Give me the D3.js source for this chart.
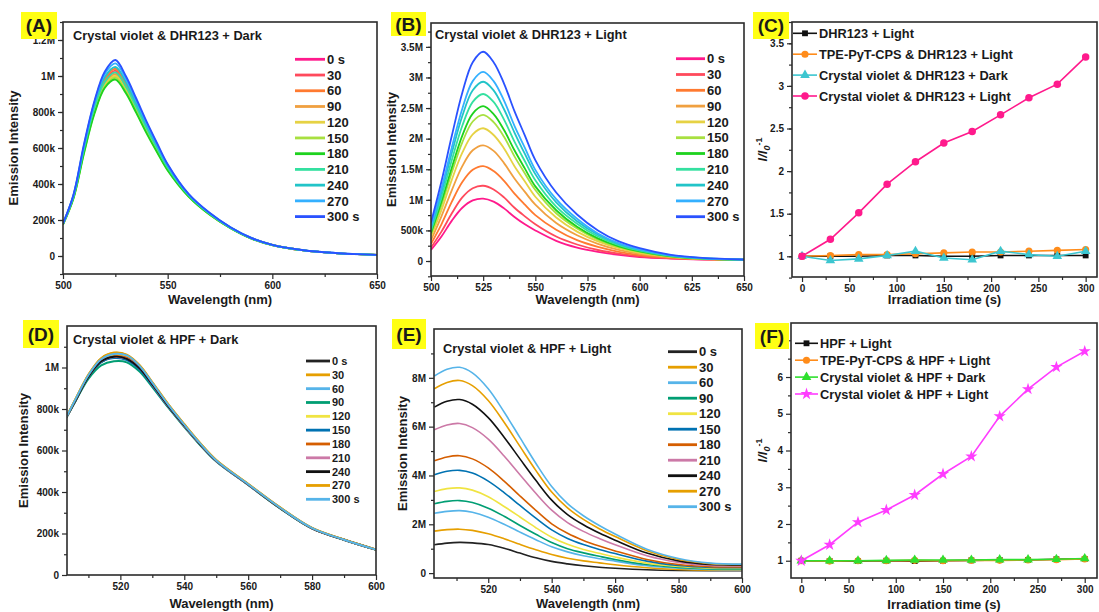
<!DOCTYPE html>
<html>
<head>
<meta charset="utf-8">
<script src="https://cdn.jsdelivr.net/npm/d3@7"></script>
<style>
  body { margin: 0; background: #fff; }
  svg { display: block; }
  text { font-family: "Liberation Sans", Arial, Helvetica, sans-serif; font-weight: bold; fill: #1a1a1a; }
</style>
</head>
<body>
<svg id="fig" width="1099" height="612"></svg>
<script>
// ---------- data (intensities in units of 10^6 counts) ----------
const timeLabels = ["0 s", "30", "60", "90", "120", "150", "180", "210", "240", "270", "300 s"];
const rainbowColors = ["#ff1a8c", "#ff4a5c", "#ff7a30", "#f0a040", "#e6d244", "#a8e040", "#1ed21e", "#34e0a0", "#22c4c8", "#34b0ff", "#2a52ff"];
const okabeColors = ["#222222", "#e69f00", "#56b4e9", "#009e73", "#f0e442", "#0072b2", "#d55e00", "#cc79a7", "#111111", "#e69f00", "#56b4e9"];

// (A) Crystal violet & DHR123, dark
const wlDHR = [500, 505, 510, 515, 520, 525, 530, 535, 540, 545, 550, 560, 570, 580, 590, 600, 615, 630, 650];
const dhrDark = [
  [0.178, 0.33, 0.59, 0.82, 0.965, 1.02, 0.94, 0.825, 0.705, 0.595, 0.49, 0.335, 0.233, 0.157, 0.098, 0.061, 0.031, 0.016, 0.006],
  [0.178, 0.33, 0.595, 0.83, 0.975, 1.03, 0.95, 0.833, 0.712, 0.6, 0.493, 0.337, 0.234, 0.157, 0.098, 0.061, 0.031, 0.016, 0.006],
  [0.179, 0.332, 0.6, 0.835, 0.985, 1.04, 0.958, 0.84, 0.718, 0.605, 0.496, 0.338, 0.235, 0.158, 0.099, 0.061, 0.031, 0.016, 0.006],
  [0.177, 0.328, 0.585, 0.81, 0.955, 1.01, 0.932, 0.818, 0.7, 0.59, 0.486, 0.334, 0.232, 0.156, 0.098, 0.061, 0.031, 0.016, 0.006],
  [0.176, 0.326, 0.58, 0.805, 0.948, 1.0, 0.923, 0.81, 0.694, 0.586, 0.483, 0.333, 0.232, 0.156, 0.098, 0.06, 0.031, 0.016, 0.006],
  [0.176, 0.323, 0.575, 0.797, 0.94, 0.99, 0.914, 0.803, 0.688, 0.58, 0.479, 0.331, 0.231, 0.155, 0.097, 0.06, 0.031, 0.016, 0.006],
  [0.175, 0.32, 0.57, 0.79, 0.935, 0.98, 0.905, 0.795, 0.68, 0.575, 0.475, 0.33, 0.23, 0.155, 0.097, 0.06, 0.031, 0.016, 0.006],
  [0.178, 0.332, 0.595, 0.825, 0.968, 1.02, 0.942, 0.828, 0.708, 0.598, 0.492, 0.338, 0.235, 0.157, 0.098, 0.061, 0.031, 0.016, 0.006],
  [0.179, 0.335, 0.605, 0.843, 0.995, 1.05, 0.968, 0.848, 0.724, 0.61, 0.5, 0.34, 0.237, 0.158, 0.099, 0.061, 0.031, 0.016, 0.006],
  [0.18, 0.338, 0.612, 0.852, 1.012, 1.07, 0.985, 0.862, 0.736, 0.618, 0.505, 0.343, 0.239, 0.159, 0.1, 0.062, 0.032, 0.017, 0.006],
  [0.18, 0.34, 0.62, 0.86, 1.025, 1.089, 1.0, 0.875, 0.745, 0.625, 0.51, 0.345, 0.24, 0.16, 0.1, 0.062, 0.032, 0.017, 0.006]
];

// (B) Crystal violet & DHR123, light
const dhrLight = [
  [0.18, 0.40, 0.66, 0.87, 0.99, 1.02, 0.97, 0.86, 0.72, 0.60, 0.50, 0.33, 0.22, 0.15, 0.10, 0.065, 0.04, 0.025, 0.015],
  [0.22, 0.48, 0.78, 1.04, 1.19, 1.23, 1.17, 1.04, 0.87, 0.73, 0.60, 0.40, 0.27, 0.18, 0.12, 0.078, 0.045, 0.027, 0.016],
  [0.28, 0.60, 0.97, 1.29, 1.49, 1.55, 1.47, 1.31, 1.10, 0.92, 0.75, 0.51, 0.34, 0.23, 0.15, 0.097, 0.053, 0.031, 0.017],
  [0.34, 0.73, 1.16, 1.55, 1.81, 1.89, 1.80, 1.60, 1.35, 1.13, 0.92, 0.62, 0.42, 0.28, 0.18, 0.118, 0.062, 0.034, 0.019],
  [0.40, 0.83, 1.33, 1.77, 2.07, 2.17, 2.06, 1.84, 1.55, 1.30, 1.05, 0.71, 0.48, 0.32, 0.21, 0.134, 0.069, 0.037, 0.020],
  [0.44, 0.91, 1.45, 1.94, 2.28, 2.39, 2.27, 2.03, 1.71, 1.43, 1.16, 0.78, 0.53, 0.35, 0.23, 0.148, 0.074, 0.039, 0.021],
  [0.46, 0.97, 1.53, 2.05, 2.41, 2.53, 2.40, 2.14, 1.81, 1.51, 1.22, 0.83, 0.56, 0.37, 0.24, 0.156, 0.078, 0.041, 0.021],
  [0.50, 1.04, 1.65, 2.21, 2.60, 2.73, 2.60, 2.31, 1.95, 1.63, 1.32, 0.89, 0.61, 0.40, 0.26, 0.168, 0.083, 0.043, 0.022],
  [0.54, 1.12, 1.77, 2.37, 2.79, 2.93, 2.79, 2.48, 2.10, 1.75, 1.42, 0.96, 0.65, 0.43, 0.28, 0.18, 0.088, 0.045, 0.023],
  [0.57, 1.18, 1.86, 2.49, 2.94, 3.09, 2.94, 2.62, 2.21, 1.85, 1.49, 1.01, 0.69, 0.45, 0.29, 0.19, 0.092, 0.047, 0.024],
  [0.63, 1.30, 2.05, 2.75, 3.25, 3.42, 3.25, 2.90, 2.45, 2.05, 1.65, 1.12, 0.76, 0.50, 0.32, 0.21, 0.10, 0.05, 0.025]
];

// (D) Crystal violet & HPF, dark
const wlHPFDark = [503, 506, 510, 514, 518, 522, 526, 530, 535, 540, 545, 550, 560, 570, 580, 590, 600];
const hpfDark = [
  [0.757, 0.84, 0.955, 1.025, 1.05, 1.04, 0.995, 0.915, 0.81, 0.718, 0.628, 0.549, 0.435, 0.322, 0.224, 0.17, 0.122],
  [0.76, 0.85, 0.965, 1.045, 1.07, 1.06, 1.01, 0.928, 0.822, 0.726, 0.635, 0.554, 0.439, 0.326, 0.227, 0.171, 0.123],
  [0.757, 0.845, 0.96, 1.035, 1.06, 1.055, 1.005, 0.925, 0.82, 0.724, 0.632, 0.552, 0.437, 0.324, 0.226, 0.17, 0.122],
  [0.755, 0.838, 0.945, 1.01, 1.03, 1.025, 0.98, 0.905, 0.806, 0.713, 0.625, 0.547, 0.434, 0.321, 0.224, 0.169, 0.121],
  [0.758, 0.848, 0.962, 1.04, 1.062, 1.052, 1.003, 0.922, 0.818, 0.722, 0.632, 0.551, 0.437, 0.324, 0.226, 0.17, 0.122],
  [0.756, 0.842, 0.955, 1.025, 1.045, 1.035, 0.99, 0.912, 0.81, 0.717, 0.628, 0.549, 0.435, 0.322, 0.225, 0.17, 0.122],
  [0.757, 0.845, 0.958, 1.032, 1.055, 1.047, 1.0, 0.92, 0.815, 0.72, 0.63, 0.55, 0.436, 0.323, 0.225, 0.17, 0.122],
  [0.757, 0.843, 0.957, 1.03, 1.05, 1.043, 0.997, 0.917, 0.812, 0.718, 0.629, 0.549, 0.435, 0.323, 0.225, 0.17, 0.122],
  [0.756, 0.842, 0.956, 1.03, 1.052, 1.042, 0.996, 0.918, 0.814, 0.72, 0.63, 0.55, 0.436, 0.323, 0.225, 0.17, 0.122],
  [0.758, 0.85, 0.966, 1.045, 1.072, 1.062, 1.012, 0.93, 0.824, 0.728, 0.636, 0.555, 0.44, 0.326, 0.227, 0.171, 0.123],
  [0.757, 0.848, 0.963, 1.04, 1.065, 1.058, 1.008, 0.926, 0.82, 0.724, 0.633, 0.552, 0.437, 0.324, 0.226, 0.17, 0.122]
];

// (E) Crystal violet & HPF, light
const wlHPFLight = [503, 507, 511, 515, 520, 525, 530, 535, 540, 545, 550, 555, 560, 570, 580, 590, 600];
const hpfLight = [
  [1.16, 1.23, 1.26, 1.24, 1.17, 1.02, 0.82, 0.63, 0.48, 0.38, 0.30, 0.24, 0.20, 0.14, 0.11, 0.10, 0.10],
  [1.72, 1.78, 1.80, 1.75, 1.61, 1.41, 1.18, 0.96, 0.76, 0.61, 0.50, 0.42, 0.34, 0.22, 0.15, 0.12, 0.12],
  [2.45, 2.53, 2.56, 2.49, 2.29, 2.00, 1.68, 1.37, 1.08, 0.87, 0.71, 0.59, 0.49, 0.30, 0.20, 0.15, 0.14],
  [2.84, 2.94, 2.97, 2.89, 2.66, 2.33, 1.95, 1.59, 1.25, 1.00, 0.83, 0.69, 0.56, 0.35, 0.23, 0.17, 0.16],
  [3.34, 3.46, 3.49, 3.40, 3.13, 2.73, 2.30, 1.86, 1.47, 1.18, 0.97, 0.81, 0.66, 0.41, 0.27, 0.20, 0.19],
  [4.03, 4.17, 4.21, 4.10, 3.77, 3.30, 2.77, 2.25, 1.77, 1.42, 1.17, 0.97, 0.80, 0.49, 0.31, 0.23, 0.22],
  [4.60, 4.76, 4.81, 4.68, 4.31, 3.77, 3.16, 2.57, 2.02, 1.63, 1.34, 1.11, 0.91, 0.56, 0.35, 0.26, 0.25],
  [5.87, 6.07, 6.13, 5.96, 5.49, 4.80, 4.03, 3.27, 2.58, 2.07, 1.71, 1.42, 1.16, 0.71, 0.44, 0.31, 0.29],
  [6.80, 7.04, 7.11, 6.92, 6.37, 5.57, 4.68, 3.80, 2.99, 2.40, 1.98, 1.64, 1.35, 0.82, 0.50, 0.35, 0.32],
  [7.55, 7.81, 7.89, 7.68, 7.07, 6.18, 5.19, 4.21, 3.32, 2.67, 2.20, 1.82, 1.50, 0.92, 0.56, 0.39, 0.35],
  [8.07, 8.35, 8.43, 8.20, 7.55, 6.60, 5.55, 4.50, 3.55, 2.85, 2.35, 1.95, 1.60, 0.98, 0.60, 0.41, 0.37]
];

// (C) and (F) relative intensity I/I0 - 1 against irradiation time
const irrTime = [0, 30, 60, 90, 120, 150, 180, 210, 240, 270, 300];
const dhrNames = ["DHR123 + Light", "TPE-PyT-CPS & DHR123 + Light", "Crystal violet & DHR123 + Dark", "Crystal violet & DHR123 + Light"];
const dhrRatio = [
  [1.0, 1.0, 1.0, 1.01, 1.01, 1.0, 1.0, 1.01, 1.01, 1.01, 1.01],
  [1.0, 1.01, 1.02, 1.02, 1.03, 1.04, 1.05, 1.05, 1.06, 1.07, 1.08],
  [1.0, 0.95, 0.97, 1.01, 1.06, 0.98, 0.96, 1.06, 1.02, 1.0, 1.06],
  [1.0, 1.20, 1.51, 1.846, 2.11, 2.33, 2.465, 2.66, 2.86, 3.02, 3.34]
];
const hpfNames = ["HPF + Light", "TPE-PyT-CPS & HPF + Light", "Crystal violet & HPF + Dark", "Crystal violet & HPF + Light"];
const hpfRatio = [
  [1.0, 0.99, 0.99, 1.0, 0.99, 1.0, 1.01, 1.02, 1.02, 1.04, 1.05],
  [1.0, 0.99, 1.0, 1.0, 1.01, 1.0, 1.01, 1.01, 1.02, 1.03, 1.05],
  [1.0, 1.0, 1.0, 1.01, 1.02, 1.02, 1.02, 1.03, 1.03, 1.04, 1.06],
  [1.0, 1.435, 2.05, 2.38, 2.79, 3.36, 3.84, 4.93, 5.67, 6.27, 6.70]
];
const dhrRatioColors = ["#111111", "#ff8c1a", "#3cc6d0", "#ff1a8c"];
const hpfRatioColors = ["#111111", "#ff8c1a", "#2ee02e", "#ff3cff"];

// ---------- drawing helpers ----------
const svg = d3.select("#fig");
const frameColor = "#2b2b2b";

function fmtIntensity(v) {
  if (Math.abs(v) < 1e-9) return "0";
  if (v < 1) return Math.round(v * 1000) + "k";
  return (+v.toFixed(2)) + "M";
}
function range(a, b, s) { const r = []; for (let v = a; v <= b + 1e-9; v += s) r.push(+v.toFixed(4)); return r; }

function styleAxis(sel, fontSize) {
  sel.select(".domain").remove();
  sel.selectAll(".tick line").attr("stroke", frameColor).attr("stroke-width", 1.2);
  sel.selectAll(".tick text").style("font-size", fontSize + "px").style("font-family", "'Liberation Sans', Arial, sans-serif").style("font-weight", "bold").attr("fill", "#1a1a1a");
}

function makePanel(p) {
  const x = d3.scaleLinear().domain(p.xDomain).range([p.left, p.right]);
  const y = d3.scaleLinear().domain(p.yDomain).range([p.bottom, p.top]);
  const g = svg.append("g");
  const clipId = "clip-" + p.key;
  svg.append("clipPath").attr("id", clipId).append("rect")
    .attr("x", p.left).attr("y", p.top).attr("width", p.right - p.left).attr("height", p.bottom - p.top);

  // minor then major ticks, outward on bottom and left
  g.append("g").attr("transform", `translate(0,${p.bottom})`)
    .call(d3.axisBottom(x).tickValues(p.xMinor).tickSize(3).tickFormat(""))
    .call(s => styleAxis(s, 10));
  g.append("g").attr("transform", `translate(0,${p.bottom})`)
    .call(d3.axisBottom(x).tickValues(p.xMajor).tickSize(5).tickPadding(3).tickFormat(p.xFormat || d3.format("d")))
    .call(s => styleAxis(s, 10));
  g.append("g").attr("transform", `translate(${p.left},0)`)
    .call(d3.axisLeft(y).tickValues(p.yMinor).tickSize(3).tickFormat(""))
    .call(s => styleAxis(s, 10));
  g.append("g").attr("transform", `translate(${p.left},0)`)
    .call(d3.axisLeft(y).tickValues(p.yMajor).tickSize(5).tickPadding(3).tickFormat(p.yFormat))
    .call(s => styleAxis(s, 10));

  const plot = g.append("g").attr("clip-path", `url(#${clipId})`);
  g.append("rect").attr("x", p.left).attr("y", p.top)
    .attr("width", p.right - p.left).attr("height", p.bottom - p.top)
    .attr("fill", "none").attr("stroke", frameColor).attr("stroke-width", 1.6);

  // axis titles
  g.append("text").attr("x", (p.left + p.right) / 2).attr("y", p.xTitleY)
    .attr("text-anchor", "middle").style("font-size", "13px").text(p.xTitle);
  const yt = g.append("text")
    .attr("transform", `translate(${p.yTitleX},${(p.top + p.bottom) / 2}) rotate(-90)`)
    .attr("text-anchor", "middle").attr("dy", "0.35em").style("font-size", "13px");
  if (p.yTitle === "ratio") {
    yt.append("tspan").style("font-style", "italic").text("I/I");
    yt.append("tspan").style("font-style", "italic").style("font-size", "9px").attr("dy", 3).text("0");
    yt.append("tspan").style("font-size", "9px").attr("dy", -8).text("-1");
  } else {
    yt.text(p.yTitle);
  }
  return { g, plot, x, y };
}

function spectraPanel(p, wl, series, colors, legend, lineWidth) {
  const P = makePanel(p);
  const line = d3.line().x((d, i) => P.x(wl[i])).y(d => P.y(d)).curve(d3.curveCatmullRom.alpha(0.5));
  P.plot.selectAll("path.s").data(series).join("path").attr("class", "s")
    .attr("d", d => line(d)).attr("fill", "none")
    .attr("stroke", (d, i) => colors[i]).attr("stroke-width", lineWidth).attr("stroke-linejoin", "round");
  // plot title inside the frame
  P.g.append("text").attr("x", p.titleX).attr("y", p.titleY).style("font-size", "12.8px").text(p.title);
  // legend
  const lg = P.g.append("g");
  timeLabels.forEach((t, i) => {
    const yy = legend.y0 + i * legend.dy;
    lg.append("line").attr("x1", legend.x0).attr("x2", legend.x1).attr("y1", yy).attr("y2", yy)
      .attr("stroke", colors[i]).attr("stroke-width", 2.8);
    lg.append("text").attr("x", legend.x1 + 2).attr("y", yy).attr("dy", "0.36em")
      .style("font-size", legend.font + "px").text(t);
  });
  return P;
}

const symbolTypes = [d3.symbolSquare, d3.symbolCircle, d3.symbolTriangle];
function ratioPanel(p, names, series, colors, lastSymbol, legend) {
  const P = makePanel(p);
  const types = symbolTypes.concat([lastSymbol]);
  const sizes = [34, 40, 40, lastSymbol === d3.symbolStar ? 46 : 44];
  const line = d3.line().x((d, i) => P.x(irrTime[i])).y(d => P.y(d));
  series.forEach((s, k) => {
    P.plot.append("path").attr("d", line(s)).attr("fill", "none")
      .attr("stroke", colors[k]).attr("stroke-width", 1.6);
    P.plot.selectAll(null).data(s).join("path")
      .attr("transform", (d, i) => `translate(${P.x(irrTime[i])},${P.y(d)})`)
      .attr("d", d3.symbol().type(types[k]).size(sizes[k])).attr("fill", colors[k]);
  });
  names.forEach((n, k) => {
    const yy = legend.y0 + k * legend.dy;
    P.g.append("line").attr("x1", legend.x0).attr("x2", legend.x1).attr("y1", yy).attr("y2", yy)
      .attr("stroke", colors[k]).attr("stroke-width", 1.6);
    P.g.append("path").attr("transform", `translate(${(legend.x0 + legend.x1) / 2},${yy})`)
      .attr("d", d3.symbol().type(types[k]).size(sizes[k])).attr("fill", colors[k]);
    P.g.append("text").attr("x", legend.x1 + 2).attr("y", yy).attr("dy", "0.36em")
      .style("font-size", "12.8px").text(n);
  });
  return P;
}

function panelTag(label, x, y, w, h) {
  svg.append("rect").attr("x", x).attr("y", y).attr("width", w).attr("height", h).attr("fill", "#ffff14");
  svg.append("text").attr("x", x + w / 2).attr("y", y + h / 2).attr("dy", "0.36em")
    .attr("text-anchor", "middle").style("font-size", "19px").attr("fill", "#111").text(label);
}

// ---------- panels ----------
spectraPanel({
  key: "A", left: 63, right: 377, top: 22, bottom: 274,
  xDomain: [500, 650], yDomain: [-0.1, 1.3],
  xMajor: range(500, 650, 50), xMinor: range(525, 625, 50),
  yMajor: range(0, 1.2, 0.2), yMinor: range(-0.1, 1.3, 0.1), yFormat: fmtIntensity,
  xTitle: "Wavelength (nm)", xTitleY: 304, yTitle: "Emission Intensity", yTitleX: 13,
  title: "Crystal violet & DHR123 + Dark", titleX: 73, titleY: 40
}, wlDHR, dhrDark, rainbowColors, { x0: 295, x1: 325, y0: 59.3, dy: 15.73, font: 13 }, 1.9);

spectraPanel({
  key: "B", left: 431, right: 744, top: 23, bottom: 276,
  xDomain: [500, 650], yDomain: [-0.245, 3.89],
  xMajor: range(500, 650, 25), xMinor: range(512.5, 637.5, 25),
  yMajor: range(0, 3.5, 0.5), yMinor: range(-0.25, 3.75, 0.25), yFormat: fmtIntensity,
  xTitle: "Wavelength (nm)", xTitleY: 304, yTitle: "Emission Intensity", yTitleX: 391,
  title: "Crystal violet & DHR123 + Light", titleX: 435, titleY: 39
}, wlDHR, dhrLight, rainbowColors, { x0: 676, x1: 705, y0: 58.7, dy: 15.8, font: 13 }, 1.8);

ratioPanel({
  key: "C", left: 792, right: 1097, top: 22, bottom: 277,
  xDomain: [-10.6, 312], yDomain: [0.757, 3.75],
  xMajor: range(0, 300, 50), xMinor: range(25, 300, 50),
  yMajor: range(1, 3.5, 0.5), yMinor: range(0.75, 3.75, 0.25), yFormat: d3.format("~g"),
  xTitle: "Irradiation time (s)", xTitleY: 304, yTitle: "ratio", yTitleX: 762
}, dhrNames, dhrRatio, dhrRatioColors, d3.symbolCircle, { x0: 793, x1: 817, y0: 33.3, dy: 20.9 });

spectraPanel({
  key: "D", left: 67, right: 376, top: 326, bottom: 575,
  xDomain: [503.3, 600], yDomain: [0, 1.2],
  xMajor: range(520, 600, 20), xMinor: range(510, 590, 20),
  yMajor: range(0, 1.0, 0.2), yMinor: range(0.1, 1.2, 0.2), yFormat: fmtIntensity,
  xTitle: "Wavelength (nm)", xTitleY: 608, yTitle: "Emission Intensity", yTitleX: 23,
  title: "Crystal violet & HPF + Dark", titleX: 73, titleY: 344
}, wlHPFDark, hpfDark, okabeColors, { x0: 306, x1: 330, y0: 361, dy: 13.83, font: 11 }, 1.9);

spectraPanel({
  key: "E", left: 434, right: 742, top: 329, bottom: 578,
  xDomain: [502.9, 600], yDomain: [-0.2, 10.0],
  xMajor: range(520, 600, 20), xMinor: range(510, 590, 20),
  yMajor: range(0, 8, 2), yMinor: range(1, 9, 2), yFormat: fmtIntensity,
  xTitle: "Wavelength (nm)", xTitleY: 608, yTitle: "Emission Intensity", yTitleX: 402,
  title: "Crystal violet & HPF + Light", titleX: 443, titleY: 353
}, wlHPFLight, hpfLight, okabeColors, { x0: 668, x1: 697, y0: 351.7, dy: 15.5, font: 13 }, 1.6);

// the top tick (7) of panel F sits under its tag, so it carries no label
ratioPanel({
  key: "F", left: 791, right: 1097, top: 323, bottom: 578,
  xDomain: [-10.9, 313], yDomain: [0.53, 7.47],
  xMajor: range(0, 300, 50), xMinor: range(25, 300, 50),
  yMajor: range(1, 7, 1), yMinor: range(1.5, 7, 1), yFormat: v => (v >= 7 ? "" : d3.format("d")(v)),
  xTitle: "Irradiation time (s)", xTitleY: 609, yTitle: "ratio", yTitleX: 762
}, hpfNames, hpfRatio, hpfRatioColors, d3.symbolStar, { x0: 795, x1: 818, y0: 343.3, dy: 16.9 });

// panel tags drawn last so they sit above tick labels
panelTag("(A)", 21, 12, 36, 27);
panelTag("(B)", 391, 12, 35, 24);
panelTag("(C)", 753, 12, 36, 27);
panelTag("(D)", 23, 320, 36, 28);
panelTag("(E)", 392, 319, 34, 30);
panelTag("(F)", 755, 323, 34, 26);
</script>
</body>
</html>
